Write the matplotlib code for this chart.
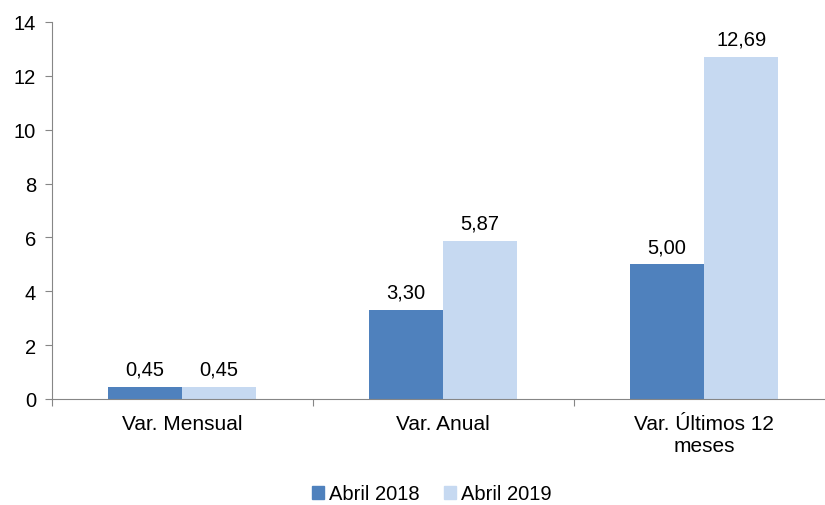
import matplotlib.pyplot as plt
import matplotlib.patches as mpatches
import numpy as np

categories = ["Var. Mensual", "Var. Anual", "Var. Últimos 12\nmeses"]
series_names = ["Abril 2018", "Abril 2019"]
abril_2018 = [0.45, 3.30, 5.00]
abril_2019 = [0.45, 5.87, 12.69]

plt.rcParams['font.family'] = ['Liberation Sans', 'DejaVu Sans']
plt.rcParams['font.size'] = 14.5

dark = '#4F81BD'
light = '#C6D9F1'
grey = '#868686'

fig = plt.figure(figsize=(8.25, 5.06), dpi=100)
ax = fig.add_axes([51.5 / 825, 1 - 400 / 506, 783 / 825, 377 / 506])

x = np.arange(len(categories))
w = 0.285
b1 = ax.bar(x - w / 2, abril_2018, w, color=dark, label=series_names[0])
b2 = ax.bar(x + w / 2, abril_2019, w, color=light, label=series_names[1])

for bars in (b1, b2):
    for r in bars:
        ax.annotate(f"{r.get_height():.2f}".replace('.', ','),
                    xy=(r.get_x() + r.get_width() / 2, r.get_height()),
                    xytext=(0, 6), textcoords="offset points",
                    ha='center', va='bottom', fontsize=14.5)

ax.set_xlim(-0.5, 2.5)
ax.set_ylim(0, 14)
ax.set_yticks(range(0, 15, 2))
ax.set_xticks([-0.5, 0.5, 1.5], minor=False)
ax.set_xticklabels([])
ax.set_xticks(x, minor=True)
ax.set_xticklabels(categories, minor=True, fontsize=15)
ax.tick_params(axis='x', which='minor', length=0, pad=11)
ax.tick_params(axis='x', which='major', length=5, color=grey)
ax.tick_params(axis='y', length=5, color=grey, pad=6)

for s in ['top', 'right']:
    ax.spines[s].set_visible(False)
for s in ['left', 'bottom']:
    ax.spines[s].set_color(grey)

handles = [mpatches.Patch(color=dark, label=series_names[0]),
           mpatches.Patch(color=light, label=series_names[1])]
fig.legend(handles=handles, loc='center', bbox_to_anchor=(0.523, 0.022),
           ncol=2, frameon=False, handlelength=0.6, handleheight=0.6,
           handletextpad=0.25, columnspacing=1.2, fontsize=14.5,
           borderpad=0)

fig.savefig("out.png", dpi=100)
